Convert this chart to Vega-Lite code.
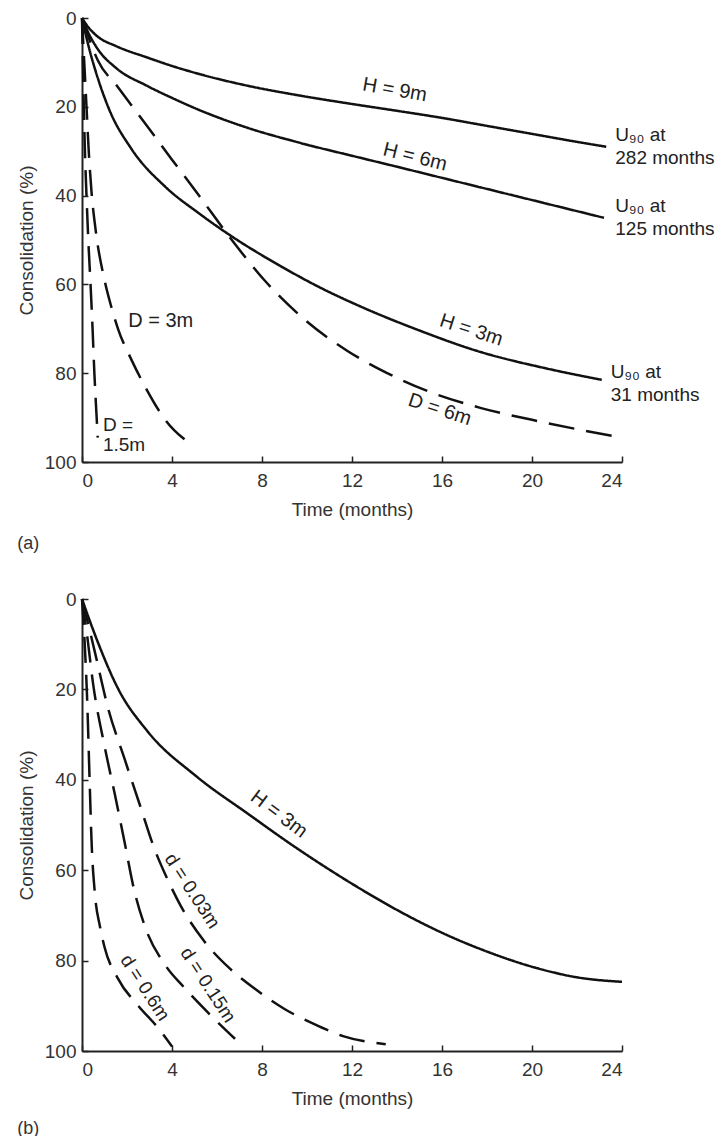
{
  "$schema": "https://vega.github.io/schema/vega-lite/v6.json",
  "padding": {"left": 17, "top": 9, "right": 0, "bottom": 0},
  "background": "white",
  "spacing": 37,
  "config": {
    "view": {"stroke": null},
    "font": "Liberation Sans",
    "axis": {
      "grid": false,
      "domainColor": "#222",
      "domainWidth": 2,
      "tickColor": "#222",
      "tickWidth": 1.5,
      "tickSize": -6,
      "labelFont": "Liberation Sans",
      "labelFontSize": 19,
      "labelColor": "#333",
      "titleFont": "Liberation Sans",
      "titleFontSize": 19,
      "titleFontWeight": "normal",
      "titleColor": "#333"
    },
    "title": {"font": "Liberation Sans", "fontSize": 18, "fontWeight": "normal", "color": "#333"}
  },
  "datasets": {
    "curvesA": [
      {"series": "H9", "style": "solid", "t": 0, "c": 0},
      {"series": "H9", "style": "solid", "t": 0.3, "c": 2.2},
      {"series": "H9", "style": "solid", "t": 0.7, "c": 4.2},
      {"series": "H9", "style": "solid", "t": 1.5, "c": 6.3},
      {"series": "H9", "style": "solid", "t": 2.9, "c": 8.9},
      {"series": "H9", "style": "solid", "t": 4, "c": 10.8},
      {"series": "H9", "style": "solid", "t": 5.2, "c": 12.6},
      {"series": "H9", "style": "solid", "t": 7.4, "c": 15.3},
      {"series": "H9", "style": "solid", "t": 9.6, "c": 17.4},
      {"series": "H9", "style": "solid", "t": 12.3, "c": 19.6},
      {"series": "H9", "style": "solid", "t": 14, "c": 20.9},
      {"series": "H9", "style": "solid", "t": 16, "c": 22.5},
      {"series": "H9", "style": "solid", "t": 18, "c": 24.3},
      {"series": "H9", "style": "solid", "t": 20, "c": 26.1},
      {"series": "H9", "style": "solid", "t": 22, "c": 27.9},
      {"series": "H9", "style": "solid", "t": 23.3, "c": 29},
      {"series": "H6", "style": "solid", "t": 0, "c": 0},
      {"series": "H6", "style": "solid", "t": 0.3, "c": 3.5},
      {"series": "H6", "style": "solid", "t": 0.7, "c": 7},
      {"series": "H6", "style": "solid", "t": 1.5, "c": 11.2},
      {"series": "H6", "style": "solid", "t": 2.9, "c": 15.3},
      {"series": "H6", "style": "solid", "t": 4, "c": 18},
      {"series": "H6", "style": "solid", "t": 5.2, "c": 20.7},
      {"series": "H6", "style": "solid", "t": 7.4, "c": 24.8},
      {"series": "H6", "style": "solid", "t": 9.6, "c": 28},
      {"series": "H6", "style": "solid", "t": 12.3, "c": 31.4},
      {"series": "H6", "style": "solid", "t": 14, "c": 33.5},
      {"series": "H6", "style": "solid", "t": 16, "c": 36},
      {"series": "H6", "style": "solid", "t": 18, "c": 38.5},
      {"series": "H6", "style": "solid", "t": 20, "c": 41},
      {"series": "H6", "style": "solid", "t": 22, "c": 43.5},
      {"series": "H6", "style": "solid", "t": 23.2, "c": 45},
      {"series": "H3", "style": "solid", "t": 0, "c": 0},
      {"series": "H3", "style": "solid", "t": 0.3, "c": 6.5},
      {"series": "H3", "style": "solid", "t": 0.7, "c": 13.5},
      {"series": "H3", "style": "solid", "t": 1.2, "c": 20.5},
      {"series": "H3", "style": "solid", "t": 2.2, "c": 29.5},
      {"series": "H3", "style": "solid", "t": 3.7, "c": 38},
      {"series": "H3", "style": "solid", "t": 5.2, "c": 44},
      {"series": "H3", "style": "solid", "t": 6.6, "c": 49},
      {"series": "H3", "style": "solid", "t": 8.8, "c": 55.8},
      {"series": "H3", "style": "solid", "t": 10.5, "c": 60.5},
      {"series": "H3", "style": "solid", "t": 12.3, "c": 64.8},
      {"series": "H3", "style": "solid", "t": 14.8, "c": 70},
      {"series": "H3", "style": "solid", "t": 17.7, "c": 75.2},
      {"series": "H3", "style": "solid", "t": 20.7, "c": 79},
      {"series": "H3", "style": "solid", "t": 23.1, "c": 81.5},
      {"series": "D6", "style": "dashed", "t": 0, "c": 0},
      {"series": "D6", "style": "dashed", "t": 0.7, "c": 9.5},
      {"series": "D6", "style": "dashed", "t": 1.6, "c": 15.6},
      {"series": "D6", "style": "dashed", "t": 2.9, "c": 24.4},
      {"series": "D6", "style": "dashed", "t": 4, "c": 31.9},
      {"series": "D6", "style": "dashed", "t": 5.2, "c": 40},
      {"series": "D6", "style": "dashed", "t": 6.6, "c": 49.6},
      {"series": "D6", "style": "dashed", "t": 8.1, "c": 59},
      {"series": "D6", "style": "dashed", "t": 9.8, "c": 67.5},
      {"series": "D6", "style": "dashed", "t": 11.8, "c": 75},
      {"series": "D6", "style": "dashed", "t": 13.3, "c": 79.3},
      {"series": "D6", "style": "dashed", "t": 15.5, "c": 84.3},
      {"series": "D6", "style": "dashed", "t": 17.7, "c": 87.8},
      {"series": "D6", "style": "dashed", "t": 20, "c": 90.5},
      {"series": "D6", "style": "dashed", "t": 22.2, "c": 92.8},
      {"series": "D6", "style": "dashed", "t": 23.9, "c": 94.4},
      {"series": "D3", "style": "dashed", "t": 0, "c": 0},
      {"series": "D3", "style": "dashed", "t": 0.1, "c": 10},
      {"series": "D3", "style": "dashed", "t": 0.2, "c": 20},
      {"series": "D3", "style": "dashed", "t": 0.3, "c": 30},
      {"series": "D3", "style": "dashed", "t": 0.42, "c": 39},
      {"series": "D3", "style": "dashed", "t": 0.6, "c": 47.5},
      {"series": "D3", "style": "dashed", "t": 1.0, "c": 59},
      {"series": "D3", "style": "dashed", "t": 1.3, "c": 65},
      {"series": "D3", "style": "dashed", "t": 1.6, "c": 70},
      {"series": "D3", "style": "dashed", "t": 2.2, "c": 77},
      {"series": "D3", "style": "dashed", "t": 2.8, "c": 83},
      {"series": "D3", "style": "dashed", "t": 3.7, "c": 90.5},
      {"series": "D3", "style": "dashed", "t": 4.85, "c": 96},
      {"series": "D15", "style": "dashed", "t": 0, "c": 0},
      {"series": "D15", "style": "dashed", "t": 0.04, "c": 10},
      {"series": "D15", "style": "dashed", "t": 0.08, "c": 20},
      {"series": "D15", "style": "dashed", "t": 0.13, "c": 30},
      {"series": "D15", "style": "dashed", "t": 0.2, "c": 40},
      {"series": "D15", "style": "dashed", "t": 0.28, "c": 50},
      {"series": "D15", "style": "dashed", "t": 0.38, "c": 60},
      {"series": "D15", "style": "dashed", "t": 0.47, "c": 70},
      {"series": "D15", "style": "dashed", "t": 0.55, "c": 80},
      {"series": "D15", "style": "dashed", "t": 0.63, "c": 88},
      {"series": "D15", "style": "dashed", "t": 0.7, "c": 94.5}
    ],
    "labelsA": [
      {"label": "H = 9m", "t": 13.9, "c": 16.2},
      {"label": "H = 6m", "t": 14.8, "c": 31.3},
      {"label": "H = 3m", "t": 17.3, "c": 70.3},
      {"label": "D = 6m", "t": 15.9, "c": 88.2},
      {"label": "D = 3m", "t": 3.5, "c": 68.2},
      {"label": "D =\n1.5m", "t": 0.93, "c": 89.6},
      {"label": "U₉₀ at\n282 months", "t": 23.7, "c": 24.3},
      {"label": "U₉₀ at\n125 months", "t": 23.7, "c": 40.3},
      {"label": "U₉₀ at\n31 months", "t": 23.5, "c": 77.7}
    ],
    "curvesB": [
      {"series": "H3", "style": "solid", "t": 0, "c": 0},
      {"series": "H3", "style": "solid", "t": 0.3, "c": 4.2},
      {"series": "H3", "style": "solid", "t": 0.7, "c": 9.5},
      {"series": "H3", "style": "solid", "t": 1.6, "c": 19.8},
      {"series": "H3", "style": "solid", "t": 2.9, "c": 29.2},
      {"series": "H3", "style": "solid", "t": 5.1, "c": 39.3},
      {"series": "H3", "style": "solid", "t": 7.4, "c": 47.6},
      {"series": "H3", "style": "solid", "t": 9.3, "c": 54.3},
      {"series": "H3", "style": "solid", "t": 12, "c": 63.0},
      {"series": "H3", "style": "solid", "t": 14, "c": 68.8},
      {"series": "H3", "style": "solid", "t": 16.2, "c": 74.3},
      {"series": "H3", "style": "solid", "t": 18, "c": 78.0},
      {"series": "H3", "style": "solid", "t": 20.1, "c": 81.5},
      {"series": "H3", "style": "solid", "t": 22, "c": 83.7},
      {"series": "H3", "style": "solid", "t": 24, "c": 84.7},
      {"series": "d003", "style": "dashed", "t": 0, "c": 0},
      {"series": "d003", "style": "dashed", "t": 0.2, "c": 4},
      {"series": "d003", "style": "dashed", "t": 0.57, "c": 11.7},
      {"series": "d003", "style": "dashed", "t": 1.15, "c": 24},
      {"series": "d003", "style": "dashed", "t": 1.9, "c": 35.5},
      {"series": "d003", "style": "dashed", "t": 2.6, "c": 46},
      {"series": "d003", "style": "dashed", "t": 3.2, "c": 55},
      {"series": "d003", "style": "dashed", "t": 3.8, "c": 62},
      {"series": "d003", "style": "dashed", "t": 4.4, "c": 68},
      {"series": "d003", "style": "dashed", "t": 5.4, "c": 75.5},
      {"series": "d003", "style": "dashed", "t": 6.6, "c": 81.9},
      {"series": "d003", "style": "dashed", "t": 7.7, "c": 86.3},
      {"series": "d003", "style": "dashed", "t": 9.0, "c": 90.7},
      {"series": "d003", "style": "dashed", "t": 10.3, "c": 94},
      {"series": "d003", "style": "dashed", "t": 11.6, "c": 96.7},
      {"series": "d003", "style": "dashed", "t": 13.5, "c": 98.5},
      {"series": "d015", "style": "dashed", "t": 0, "c": 0},
      {"series": "d015", "style": "dashed", "t": 0.2, "c": 7},
      {"series": "d015", "style": "dashed", "t": 0.5, "c": 19},
      {"series": "d015", "style": "dashed", "t": 1.0, "c": 32.5},
      {"series": "d015", "style": "dashed", "t": 1.45, "c": 43},
      {"series": "d015", "style": "dashed", "t": 1.9, "c": 54},
      {"series": "d015", "style": "dashed", "t": 2.3, "c": 64},
      {"series": "d015", "style": "dashed", "t": 2.8, "c": 72.5},
      {"series": "d015", "style": "dashed", "t": 3.7, "c": 81},
      {"series": "d015", "style": "dashed", "t": 4.55, "c": 86},
      {"series": "d015", "style": "dashed", "t": 5.7, "c": 92},
      {"series": "d015", "style": "dashed", "t": 6.8, "c": 97.3},
      {"series": "d06", "style": "dashed", "t": 0, "c": 0},
      {"series": "d06", "style": "dashed", "t": 0.1, "c": 8},
      {"series": "d06", "style": "dashed", "t": 0.22, "c": 21},
      {"series": "d06", "style": "dashed", "t": 0.35, "c": 42},
      {"series": "d06", "style": "dashed", "t": 0.42, "c": 53},
      {"series": "d06", "style": "dashed", "t": 0.57, "c": 65},
      {"series": "d06", "style": "dashed", "t": 0.8, "c": 72.5},
      {"series": "d06", "style": "dashed", "t": 1.0, "c": 77},
      {"series": "d06", "style": "dashed", "t": 1.6, "c": 84},
      {"series": "d06", "style": "dashed", "t": 2.5, "c": 90},
      {"series": "d06", "style": "dashed", "t": 3.4, "c": 95},
      {"series": "d06", "style": "dashed", "t": 4.0, "c": 99}
    ],
    "labelsB": [
      {"label": "H = 3m", "t": 8.75, "c": 47.6},
      {"label": "d = 0.03m", "t": 4.9, "c": 64.6},
      {"label": "d = 0.15m", "t": 5.6, "c": 85.4},
      {"label": "d = 0.6m", "t": 2.8, "c": 86}
    ]
  },
  "vconcat": [
    {
      "width": 540,
      "height": 444,
      "title": {"text": "(a)", "orient": "bottom", "anchor": "start", "frame": "bounds", "offset": 16},
      "encoding": {
        "x": {"field": "t", "type": "quantitative", "scale": {"domain": [0, 24], "nice": false}, "axis": {"title": "Time (months)", "values": [0, 4, 8, 12, 16, 20, 24], "labelPadding": 15, "titlePadding": 10}},
        "y": {"field": "c", "type": "quantitative", "scale": {"domain": [0, 100], "nice": false, "reverse": true}, "axis": {"title": "Consolidation (%)", "values": [0, 20, 40, 60, 80, 100], "labelPadding": 12, "titlePadding": 8}}
      },
      "layer": [
        {
          "data": {"name": "curvesA"},
          "mark": {"type": "line", "color": "#111", "strokeWidth": 2.5, "interpolate": "monotone", "clip": false},
          "encoding": {
            "detail": {"field": "series", "type": "nominal"},
            "strokeDash": {"field": "style", "type": "nominal", "scale": {"domain": ["solid", "dashed"], "range": [[1, 0], [26, 12]]}, "legend": null}
          }
        },
        {
          "data": {"name": "labelsA"},
          "transform": [{"filter": "datum.label == 'H = 9m'"}],
          "mark": {"type": "text", "angle": 10, "fontSize": 20, "color": "#222", "align": "center", "baseline": "middle"},
          "encoding": {"text": {"field": "label"}}
        },
        {
          "data": {"name": "labelsA"},
          "transform": [{"filter": "datum.label == 'H = 6m'"}],
          "mark": {"type": "text", "angle": 14, "fontSize": 20, "color": "#222", "align": "center", "baseline": "middle"},
          "encoding": {"text": {"field": "label"}}
        },
        {
          "data": {"name": "labelsA"},
          "transform": [{"filter": "datum.label == 'H = 3m' || datum.label == 'D = 6m'"}],
          "mark": {"type": "text", "angle": 18, "fontSize": 20, "color": "#222", "align": "center", "baseline": "middle"},
          "encoding": {"text": {"field": "label"}}
        },
        {
          "data": {"name": "labelsA"},
          "transform": [{"filter": "datum.label == 'D = 3m'"}],
          "mark": {"type": "text", "fontSize": 20, "color": "#222", "align": "center", "baseline": "middle"},
          "encoding": {"text": {"field": "label"}}
        },
        {
          "data": {"name": "labelsA"},
          "transform": [{"filter": "indexof(datum.label, 'U') == 0"}],
          "mark": {"type": "text", "fontSize": 19, "color": "#222", "align": "left", "baseline": "top", "lineBreak": "\n", "lineHeight": 23},
          "encoding": {"text": {"field": "label"}}
        },
        {
          "data": {"name": "labelsA"},
          "transform": [{"filter": "indexof(datum.label, '1.5m') > 0"}],
          "mark": {"type": "text", "fontSize": 19, "color": "#222", "align": "left", "baseline": "top", "lineBreak": "\n", "lineHeight": 20},
          "encoding": {"text": {"field": "label"}}
        }
      ]
    },
    {
      "width": 540,
      "height": 452,
      "title": {"text": "(b)", "orient": "bottom", "anchor": "start", "frame": "bounds", "offset": 12},
      "encoding": {
        "x": {"field": "t", "type": "quantitative", "scale": {"domain": [0, 24], "nice": false}, "axis": {"title": "Time (months)", "values": [0, 4, 8, 12, 16, 20, 24], "labelPadding": 15, "titlePadding": 10}},
        "y": {"field": "c", "type": "quantitative", "scale": {"domain": [0, 100], "nice": false, "reverse": true}, "axis": {"title": "Consolidation (%)", "values": [0, 20, 40, 60, 80, 100], "labelPadding": 12, "titlePadding": 8}}
      },
      "layer": [
        {
          "data": {"name": "curvesB"},
          "mark": {"type": "line", "color": "#111", "strokeWidth": 2.5, "interpolate": "monotone", "clip": false},
          "encoding": {
            "detail": {"field": "series", "type": "nominal"},
            "strokeDash": {"field": "style", "type": "nominal", "scale": {"domain": ["solid", "dashed"], "range": [[1, 0], [22, 10]]}, "legend": null}
          }
        },
        {
          "data": {"name": "labelsB"},
          "transform": [{"filter": "datum.label == 'H = 3m'"}],
          "mark": {"type": "text", "angle": 37, "fontSize": 20, "color": "#222", "align": "center", "baseline": "middle"},
          "encoding": {"text": {"field": "label"}}
        },
        {
          "data": {"name": "labelsB"},
          "transform": [{"filter": "datum.label != 'H = 3m'"}],
          "mark": {"type": "text", "angle": 57, "fontSize": 19, "color": "#222", "align": "center", "baseline": "middle"},
          "encoding": {"text": {"field": "label"}}
        }
      ]
    }
  ]
}
